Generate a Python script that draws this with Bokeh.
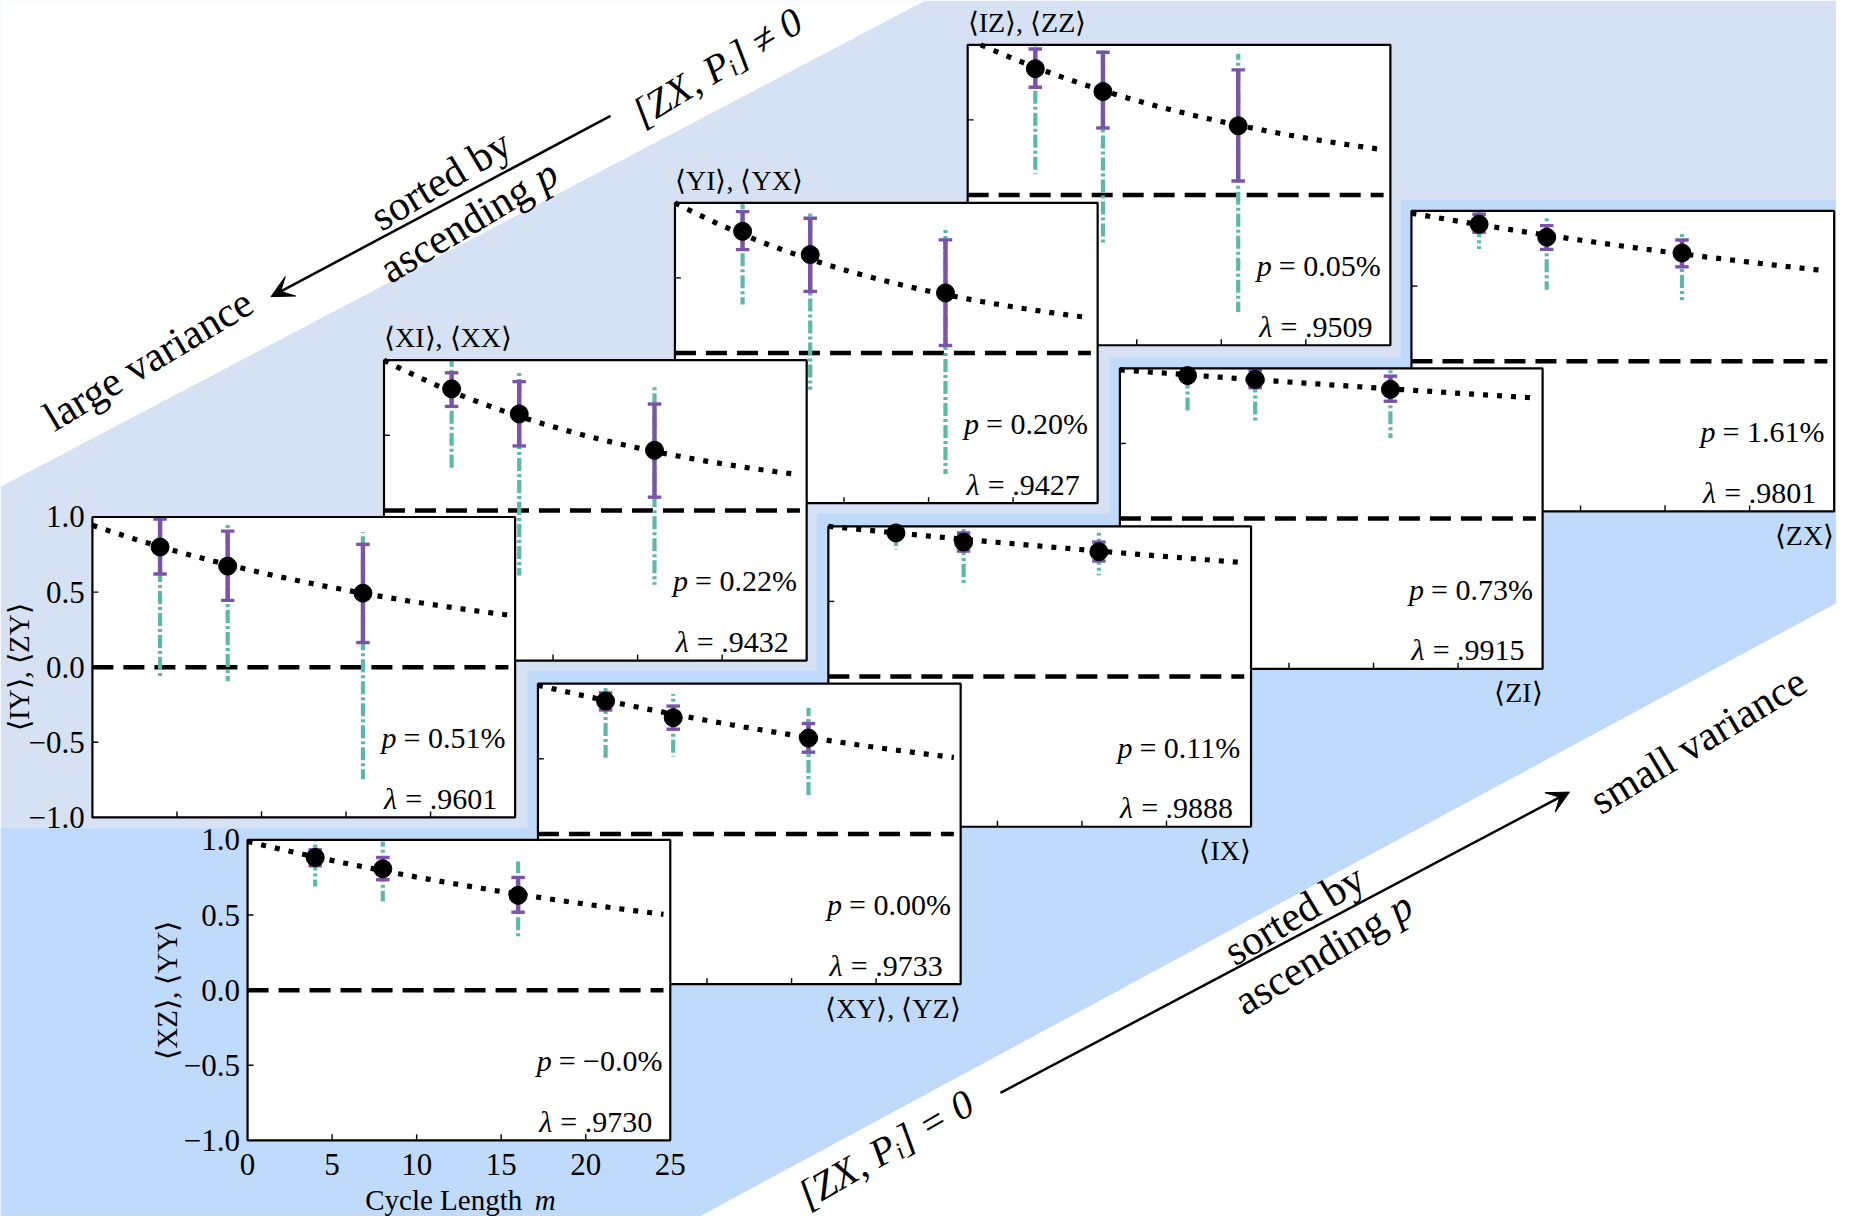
import numpy as np
from bokeh.plotting import figure
from bokeh.models import Range1d, Arrow, VeeHead
from bokeh.core.properties import value
from bokeh.embed import file_html
from bokeh.resources import INLINE

# ---------------- data ----------------
CYCLE_LENGTHS = [4, 8, 16]
X_TICKS = [0, 5, 10, 15, 20, 25]
X_TICK_LABELS = ["0", "5", "10", "15", "20", "25"]
Y_TICKS = [1.0, 0.5, 0.0, -0.5, -1.0]
Y_TICK_LABELS = ["1.0", "0.5", "0.0", "\u22120.5", "\u22121.0"]

# panel 1  <XZ>,<YY>
XZYY_MEAN = [0.883, 0.808, 0.631]
XZYY_IN_LO = [0.828, 0.735, 0.519]
XZYY_IN_HI = [0.934, 0.883, 0.750]
XZYY_OUT_LO = [0.69, 0.59, 0.338]
XZYY_OUT_HI = [1.0, 0.99, 0.857]
# panel 2  <IY>,<ZY>
IYZY_MEAN = [0.80, 0.673, 0.493]
IYZY_IN_LO = [0.62, 0.445, 0.164]
IYZY_IN_HI = [0.987, 0.906, 0.818]
IYZY_OUT_LO = [-0.077, -0.094, -0.746]
IYZY_OUT_HI = [1.0, 0.954, 0.899]
# panel 3  <XI>,<XX>
XIXX_MEAN = [0.809, 0.642, 0.40]
XIXX_IN_LO = [0.692, 0.429, 0.088]
XIXX_IN_HI = [0.916, 0.857, 0.708]
XIXX_OUT_LO = [0.264, -0.433, -0.495]
XIXX_OUT_HI = [1.0, 0.919, 0.84]
# panel 4  <YI>,<YX>
YIYX_MEAN = [0.81, 0.655, 0.40]
YIYX_IN_LO = [0.688, 0.41, 0.05]
YIYX_IN_HI = [0.941, 0.897, 0.753]
YIYX_OUT_LO = [0.323, -0.245, -0.806]
YIYX_OUT_HI = [0.99, 0.945, 0.84]
# panel 5  <IZ>,<ZZ>
IZZZ_MEAN = [0.841, 0.689, 0.461]
IZZZ_IN_LO = [0.717, 0.446, 0.093]
IZZZ_IN_HI = [0.972, 0.95, 0.833]
IZZZ_OUT_LO = [0.141, -0.337, -0.778]
IZZZ_OUT_HI = [1.0, 0.974, 0.941]
# panel 6  <XY>,<YZ>
XYYZ_MEAN = [0.884, 0.774, 0.638]
XYYZ_IN_LO = [0.825, 0.697, 0.544]
XYYZ_IN_HI = [0.939, 0.851, 0.735]
XYYZ_OUT_LO = [0.507, 0.515, 0.25]
XYYZ_OUT_HI = [0.99, 0.932, 0.84]
# panel 7  <IX>
IX_MEAN = [0.956, 0.895, 0.831]
IX_IN_LO = [0.93, 0.835, 0.769]
IX_IN_HI = [0.98, 0.956, 0.895]
IX_OUT_LO = [0.846, 0.62, 0.675]
IX_OUT_HI = [1.0, 0.989, 0.967]
# panel 8  <ZI>
ZI_MEAN = [0.952, 0.926, 0.86]
ZI_IN_LO = [0.925, 0.871, 0.781]
ZI_IN_HI = [0.975, 0.985, 0.948]
ZI_OUT_LO = [0.711, 0.646, 0.536]
ZI_OUT_HI = [1.0, 1.0, 1.0]
# panel 9  <ZX>
ZX_MEAN = [0.912, 0.825, 0.72]
ZX_IN_LO = [0.858, 0.744, 0.628]
ZX_IN_HI = [0.978, 0.902, 0.807]
ZX_OUT_LO = [0.746, 0.475, 0.405]
ZX_OUT_HI = [1.0, 0.967, 0.864]

PANEL_LABELS = ["\u27e8XZ\u27e9, \u27e8YY\u27e9", "\u27e8IY\u27e9, \u27e8ZY\u27e9",
                "\u27e8XI\u27e9, \u27e8XX\u27e9", "\u27e8YI\u27e9, \u27e8YX\u27e9",
                "\u27e8IZ\u27e9, \u27e8ZZ\u27e9", "\u27e8XY\u27e9, \u27e8YZ\u27e9",
                "\u27e8IX\u27e9", "\u27e8ZI\u27e9", "\u27e8ZX\u27e9"]
LAMBDAS = [0.9730, 0.9601, 0.9432, 0.9427, 0.9509, 0.9733, 0.9888, 0.9915, 0.9801]
LAMBDA_TEXT = [".9730", ".9601", ".9432", ".9427", ".9509", ".9733", ".9888", ".9915", ".9801"]
AMPLITUDES = [0.99, 0.945, 1.0, 1.0, 1.04, 0.99, 1.0, 0.99, 0.985]
P_TEXT = ["\u22120.0%", "0.51%", "0.22%", "0.20%", "0.05%", "0.00%", "0.11%", "0.73%", "1.61%"]

PANEL_DATA = [
    (XZYY_MEAN, XZYY_IN_LO, XZYY_IN_HI, XZYY_OUT_LO, XZYY_OUT_HI),
    (IYZY_MEAN, IYZY_IN_LO, IYZY_IN_HI, IYZY_OUT_LO, IYZY_OUT_HI),
    (XIXX_MEAN, XIXX_IN_LO, XIXX_IN_HI, XIXX_OUT_LO, XIXX_OUT_HI),
    (YIYX_MEAN, YIYX_IN_LO, YIYX_IN_HI, YIYX_OUT_LO, YIYX_OUT_HI),
    (IZZZ_MEAN, IZZZ_IN_LO, IZZZ_IN_HI, IZZZ_OUT_LO, IZZZ_OUT_HI),
    (XYYZ_MEAN, XYYZ_IN_LO, XYYZ_IN_HI, XYYZ_OUT_LO, XYYZ_OUT_HI),
    (IX_MEAN, IX_IN_LO, IX_IN_HI, IX_OUT_LO, IX_OUT_HI),
    (ZI_MEAN, ZI_IN_LO, ZI_IN_HI, ZI_OUT_LO, ZI_OUT_HI),
    (ZX_MEAN, ZX_IN_LO, ZX_IN_HI, ZX_OUT_LO, ZX_OUT_HI),
]

# ---------------- layout / style ----------------
CW, CH = 1568.0, 1043.0        # canvas units
FIG_W, FIG_H = 1836, 1216
PXU = FIG_W / CW               # figure px per canvas unit
PW, PH = 361.0, 257.7          # panel box size in canvas units
PANEL_POS = [(211, 720), (78.5, 443), (327.5, 308.5), (576, 173.5), (826, 38),
             (459, 586), (707, 451), (956, 315.5), (1205, 180.5)]
DRAW_ORDER = [4, 3, 2, 1, 8, 7, 6, 5, 0]

FONT = "Liberation Serif"
LIGHT = "#D6E2F4"
BRIGHT = "#C0DAFC"
TEAL = "#5DB7AB"
PURPLE = "#7B54A8"


def cy(v):
    return CH - v


p = figure(width=FIG_W, height=FIG_H, x_range=Range1d(0, CW), y_range=Range1d(0, CH),
           output_backend="svg", toolbar_location=None, min_border=0,
           x_axis_location=None, y_axis_location=None,
           background_fill_color="white", border_fill_color="white", outline_line_color=None)
p.xgrid.grid_line_color = None
p.ygrid.grid_line_color = None

# ---------------- background ----------------
p.patch([0, CW, CW, 0], [0, 0, CH, CH], fill_color=LIGHT, line_color=None)
stair_x = [0, 450, 450, 697, 697, 947, 947, 1196, 1196, CW, CW, 0]
stair_y = [710, 710, 575, 575, 440, 440, 306, 306, 171, 171, CH, CH]
p.patch(stair_x, [cy(v) for v in stair_y], fill_color=BRIGHT, line_color=None)
p.patch([0, 790, 0], [cy(0), cy(0), cy(417)], fill_color="white", line_color=None)
p.patch([597, CW, CW], [cy(CH), cy(517), cy(CH)], fill_color="white", line_color=None)


def big_text(x, y, s, angle_deg, style="normal", size=42):
    p.text(x=[x], y=[cy(y)], text=[s], angle=np.radians(angle_deg),
           text_font=value(FONT), text_font_size=value(f"{size}px"), text_font_style=style,
           text_align="center", text_baseline="middle", text_color="black")


def ascending_p(x, y, angle_deg, size=42):
    # "ascending" upright + italic "p", laid out along the rotated baseline
    a = np.radians(angle_deg)
    ux, uy = np.cos(a) / PXU, np.sin(a) / PXU
    d1, d2 = -0.375 * size, 2.125 * size
    big_text(x + d1 * ux, y - d1 * uy, "ascending", angle_deg, size=size)
    big_text(x + d2 * ux, y - d2 * uy, "p", angle_deg, "italic", size=size)


# annotations, upper left
big_text(612, 57, "[ZX, P\u1d62] \u2260 0", 31, "italic", size=40)
big_text(376, 154, "sorted by", 31)
ascending_p(400, 189, 31)
big_text(126, 308, "large variance", 31)
p.add_layout(Arrow(end=VeeHead(size=22, fill_color="black", line_color="black"),
                   x_start=521, y_start=cy(99), x_end=231, y_end=cy(254),
                   line_width=2.5, line_color="black"))
# annotations, lower right
big_text(756, 985, "[ZX, P\u1d62] = 0", 30, "italic", size=40)
big_text(1105, 784, "sorted by", 31)
ascending_p(1130, 817, 31)
big_text(1450, 635, "small variance", 31)
p.add_layout(Arrow(end=VeeHead(size=22, fill_color="black", line_color="black"),
                   x_start=854, y_start=cy(937), x_end=1340, y_end=cy(679),
                   line_width=2.5, line_color="black"))


# ---------------- panels ----------------
def add_panel(i):
    left, top = PANEL_POS[i]
    sx = PW / 25.0
    sy = PH / 2.0
    xn, yn = f"px{i}", f"py{i}"
    p.extra_x_ranges[xn] = Range1d(-left / sx, (CW - left) / sx)
    ytop = CH - top
    p.extra_y_ranges[yn] = Range1d(1 - ytop / sy, 1 + top / sy)
    kw = dict(x_range_name=xn, y_range_name=yn)
    mean, in_lo, in_hi, out_lo, out_hi = PANEL_DATA[i]
    m = CYCLE_LENGTHS

    p.quad(left=[0], right=[25], bottom=[-1], top=[1], fill_color="white", line_color=None, **kw)
    # zero line
    p.line([0, 24.6], [0, 0], line_color="black", line_width=4.5, line_dash="21 10", **kw)
    # outer (teal) error bars, dash-dot, drawn outward from the mean
    p.segment(x0=m, y0=mean, x1=m, y1=out_hi, line_color=TEAL, line_width=4.2,
              line_dash="13 3 3 3", **kw)
    p.segment(x0=m, y0=mean, x1=m, y1=out_lo, line_color=TEAL, line_width=4.2,
              line_dash="13 3 3 3", **kw)
    # inner (purple) error bars with caps
    p.segment(x0=m, y0=in_lo, x1=m, y1=in_hi, line_color=PURPLE, line_width=4.4, **kw)
    cap = 0.4
    p.segment(x0=[v - cap for v in m], y0=in_lo, x1=[v + cap for v in m], y1=in_lo,
              line_color=PURPLE, line_width=3.4, **kw)
    p.segment(x0=[v - cap for v in m], y0=in_hi, x1=[v + cap for v in m], y1=in_hi,
              line_color=PURPLE, line_width=3.4, **kw)
    # fitted decay A * lambda^m (kept inside the box)
    A, lam = AMPLITUDES[i], LAMBDAS[i]
    m0 = max(0.0, np.log(1.0 / A) / np.log(lam))
    mf = np.linspace(m0, 24.6, 100)
    p.line(mf, A * lam ** mf, line_color="black", line_width=5.2,
           line_dash="5 9", line_cap="butt", **kw)
    p.scatter(m, mean, size=18, fill_color="black", line_color="black", **kw)
    # inward ticks
    xt = X_TICKS[1:-1]
    p.segment(x0=xt, y0=[-1] * len(xt), x1=xt, y1=[-1 + 0.04] * len(xt),
              line_color="black", line_width=1.4, **kw)
    yt = Y_TICKS[1:-1]
    p.segment(x0=[0] * len(yt), y0=yt, x1=[0.35] * len(yt), y1=yt,
              line_color="black", line_width=1.4, **kw)
    # frame
    p.quad(left=[0], right=[25], bottom=[-1], top=[1], fill_color=None,
           line_color="black", line_width=2.2, **kw)

    tkw = dict(text_font=value(FONT), text_baseline="middle", text_color="black", **kw)
    fs = value("30px")
    p.text(x=[17.1], y=[-0.47], text=["p"], text_font_size=fs,
           text_font_style="italic", text_align="left", **tkw)
    p.text(x=[18.4], y=[-0.47], text=["= " + P_TEXT[i]], text_font_size=fs,
           text_align="left", **tkw)
    p.text(x=[17.25], y=[-0.875], text=["\u03bb"], text_font_size=fs,
           text_font_style="italic", text_align="left", **tkw)
    p.text(x=[18.5], y=[-0.875], text=["= " + LAMBDA_TEXT[i]], text_font_size=fs,
           text_align="left", **tkw)

    if i in (0, 1):
        p.text(x=[-0.45] * len(Y_TICKS), y=Y_TICKS, text=Y_TICK_LABELS,
               text_font_size=value("31px"), text_align="right", **tkw)
        p.text(x=[-4.75 if i == 0 else -4.35], y=[0], text=[PANEL_LABELS[i]],
               angle=np.pi / 2, text_font_size=value("29px"), text_align="center", **tkw)
    if i == 0:
        p.text(x=X_TICKS, y=[-1.16] * len(X_TICKS), text=X_TICK_LABELS,
               text_font_size=value("31px"), text_align="center", **tkw)
        p.text(x=[11.6], y=[-1.40], text=["Cycle Length"], text_font_size=value("29px"),
               text_align="center", **tkw)
        p.text(x=[17.6], y=[-1.40], text=["m"], text_font_size=value("29px"),
               text_font_style="italic", text_align="center", **tkw)
    elif i in (2, 3, 4):
        p.text(x=[0], y=[1.15], text=[PANEL_LABELS[i]], text_font_size=value("28px"),
               text_align="left", **tkw)
    elif i >= 5:
        p.text(x=[25], y=[-1.16], text=[PANEL_LABELS[i]], text_font_size=value("28px"),
               text_align="right", **tkw)


for idx in DRAW_ORDER:
    add_panel(idx)

open("out.html", "w").write(file_html(p, INLINE))
